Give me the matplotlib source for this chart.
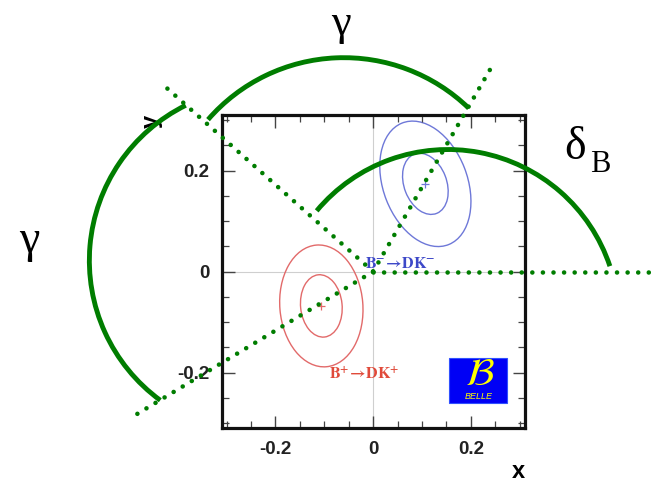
import matplotlib
matplotlib.use("Agg")
import matplotlib.pyplot as plt
from matplotlib.patches import Ellipse, Arc, Rectangle
from matplotlib.ticker import MultipleLocator

# fitted (x, y) central values for each charge
centre_minus = (0.107, 0.174)
centre_plus = (-0.106, -0.068)

# contour levels as ellipses: (width, height, angle in degrees), inner then outer
contours_minus = [(0.126, 0.087, 112.0), (0.259, 0.172, 112.0)]
contours_plus = [(0.124, 0.085, 96.0), (0.242, 0.170, 95.0)]

# dotted rays drawn out from the origin (end points)
ray_end_x = [0.241, -0.425, -0.488, 0.58]
ray_end_y = [0.403, 0.366, -0.285, 0.0]

# angle arcs: centre, radii and start/stop angles
arc_cx = [-0.060, -0.227, 0.153]
arc_cy = [0.068, 0.022, -0.097]
arc_rx = [0.368, 0.354, 0.350]
arc_ry = [0.356, 0.343, 0.339]
arc_t0 = [45, 117, 18]
arc_t1 = [140, 233, 141]

tick_values = [-0.2, 0.0, 0.2]
tick_labels = ["-0.2", "0", "0.2"]

GREEN = "#007d00"
BLUE = "#6e78d8"
RED = "#e26a6a"

plt.rcParams["mathtext.fontset"] = "stix"

fig = plt.figure(figsize=(6.54, 4.82), dpi=100)
ax = fig.add_axes([0.339, 0.112, 0.463, 0.649])
ax.set_xlim(-0.31, 0.31)
ax.set_ylim(-0.31, 0.31)

# zero lines
ax.axhline(0, color="#cfcfcf", lw=0.8, zorder=0)
ax.axvline(0, color="#cfcfcf", lw=0.8, zorder=0)

# likelihood contours
for w, h, a in contours_minus:
    ax.add_patch(Ellipse(centre_minus, w, h, angle=a, fill=False, ec=BLUE, lw=1.0))
for w, h, a in contours_plus:
    ax.add_patch(Ellipse(centre_plus, w, h, angle=a, fill=False, ec=RED, lw=1.0))
ax.plot(*centre_minus, marker="+", color=BLUE, ms=6, mew=0.9)
ax.plot(*centre_plus, marker="+", color=RED, ms=6, mew=0.9)

ax.text(-0.016, 0.008, r"$\mathbf{B^{-}\!\rightarrow\!DK^{-}}$", color="#3d48c8",
        fontsize=11.5, va="baseline", ha="left")
ax.text(-0.091, -0.212, r"$\mathbf{B^{+}\!\rightarrow\!DK^{+}}$", color="#e04a3a",
        fontsize=11.5, va="baseline", ha="left")

# Belle logo
ax.add_patch(Rectangle((0.155, -0.26), 0.119, 0.089, fc="#0000f5", ec="#3050ff", lw=0.8, zorder=3))
ax.text(0.219, -0.203, r"$\mathcal{B}$", color="#ffff00", fontsize=28,
        ha="center", va="center", zorder=4)
ax.text(0.216, -0.247, "BELLE", color="#ffff00", fontsize=6.5, style="italic",
        family="Liberation Sans", ha="center", va="center", zorder=4)

# axes styling
for s in ax.spines.values():
    s.set_linewidth(2.3)
    s.set_color("#111111")
ax.set_xticks(tick_values)
ax.set_yticks(tick_values)
ax.set_xticklabels(tick_labels)
ax.set_yticklabels(tick_labels)
ax.xaxis.set_minor_locator(MultipleLocator(0.05))
ax.yaxis.set_minor_locator(MultipleLocator(0.05))
ax.tick_params(which="both", direction="in", top=True, right=True, color="#444444")
ax.tick_params(which="major", length=9, width=1.0, labelsize=13.5, pad=9)
ax.tick_params(which="minor", length=5, width=0.9)
for lab in ax.get_xticklabels() + ax.get_yticklabels():
    lab.set_fontweight("bold")
    lab.set_family("Liberation Sans")
    lab.set_color("#222222")
ax.set_xlabel("x", fontsize=17, fontweight="bold", family="Liberation Sans", loc="right", labelpad=2)
ax.set_ylabel("y", fontsize=17, fontweight="bold", family="Liberation Sans", loc="top", labelpad=10)

# dotted rays from the origin
for ex, ey in zip(ray_end_x, ray_end_y):
    ax.plot([0, ex], [0, ey], color=GREEN, lw=3.3, linestyle=(0, (0.01, 2.3)),
            dash_capstyle="round", clip_on=False, zorder=6)

# angle arcs
for cx, cy, rx, ry, t0, t1 in zip(arc_cx, arc_cy, arc_rx, arc_ry, arc_t0, arc_t1):
    ax.add_patch(Arc((cx, cy), 2 * rx, 2 * ry, theta1=t0, theta2=t1, color=GREEN,
                     lw=3.5, clip_on=False, zorder=7))

# angle names
serif = "Liberation Serif"
ax.text(-0.065, 0.468, "γ", fontsize=32, family=serif, ha="center", va="baseline", clip_on=False)
ax.text(-0.705, 0.038, "γ", fontsize=33, family=serif, ha="center", va="baseline", clip_on=False)
ax.text(0.414, 0.224, "δ", fontsize=33, family=serif, ha="center", va="baseline", clip_on=False)
ax.text(0.444, 0.198, "B", fontsize=22, family=serif, ha="left", va="baseline", clip_on=False)

fig.savefig("out.png", dpi=100)
